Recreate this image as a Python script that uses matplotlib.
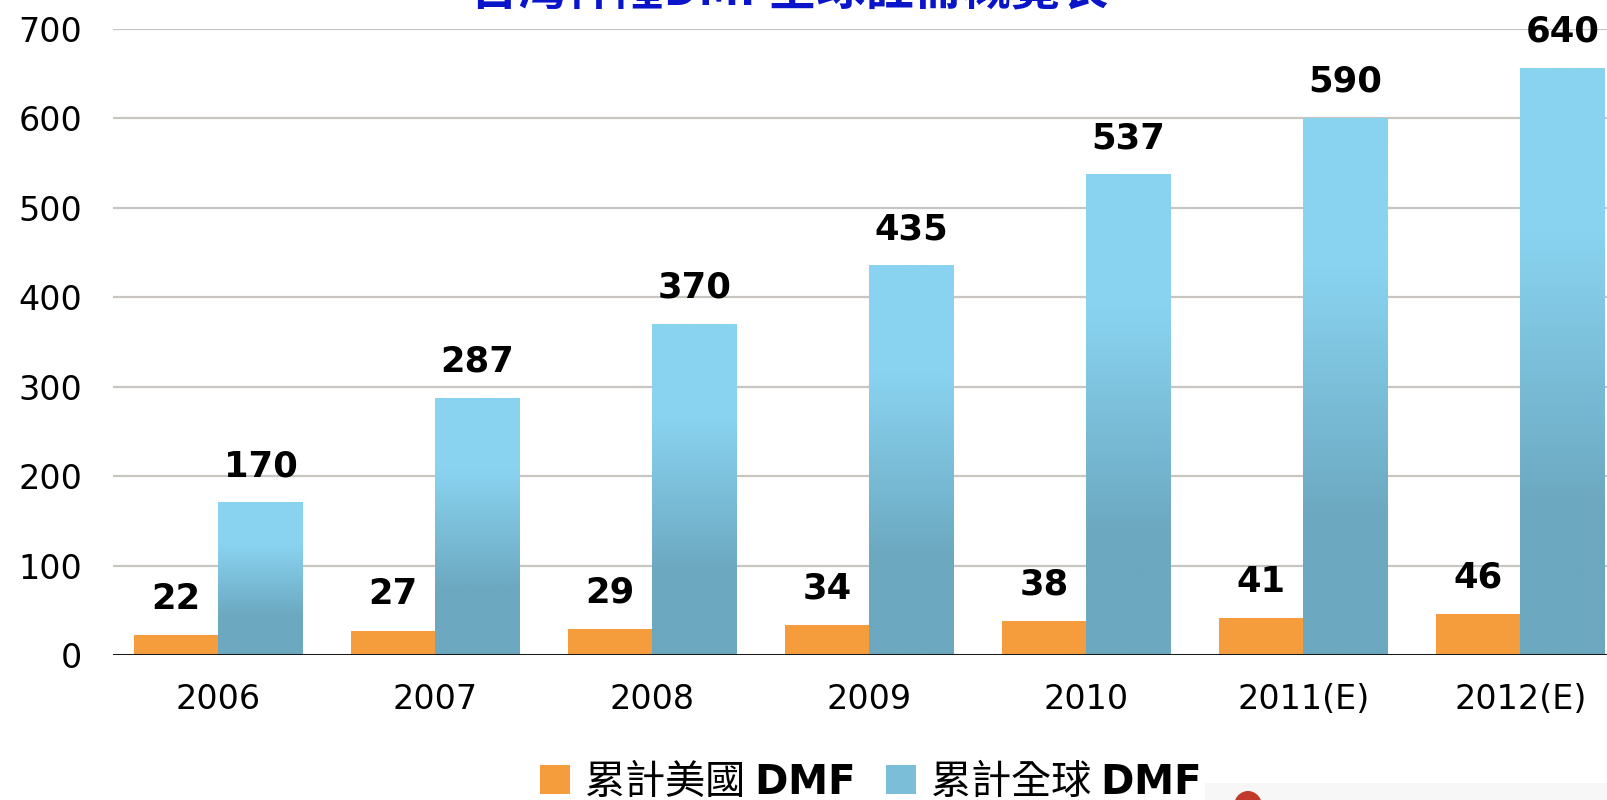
#!/usr/bin/env python3
"""Grouped bar chart of cumulative US / global DMF filings, 2006-2012(E)."""

import matplotlib

matplotlib.use("Agg")
import matplotlib.pyplot as plt
import numpy as np
from matplotlib.patches import Ellipse, Patch, Rectangle

# data
years = ["2006", "2007", "2008", "2009", "2010", "2011(E)", "2012(E)"]
us_dmf = [22, 27, 29, 34, 38, 41, 46]
global_dmf = [170, 287, 370, 435, 537, 590, 640]
# the picture draws the last two estimate bars taller than their labels
global_bar_heights = [170, 287, 370, 435, 537, 600, 656]
y_ticks = [0, 100, 200, 300, 400, 500, 600, 700]

title = "台灣神隆DMF全球註冊概覽表"
legend_labels = [r"累計美國 $\mathbf{DMF}$", r"累計全球 $\mathbf{DMF}$"]

ORANGE = "#f59d3d"
BLUE_LIGHT = np.array([137, 211, 240]) / 255
BLUE_DARK = np.array([108, 168, 192]) / 255

plt.rcParams["font.family"] = ["DejaVu Sans", "Noto Sans CJK TC"]
plt.rcParams["mathtext.fontset"] = "dejavusans"


def blue_gradient(n=200):
    t = np.linspace(0, 1, n)  # 0 = top of bar
    mix = np.clip((t - 0.28) / (0.75 - 0.28), 0, 1)[:, None]
    cols = BLUE_LIGHT * (1 - mix) + BLUE_DARK * mix
    return cols[:, None, :]


fig = plt.figure(figsize=(16.07, 8.0), dpi=100)
ax = fig.add_axes([113 / 1607, 1 - 655 / 800, 1 - 113 / 1607, (655 - 29) / 800])

x = np.arange(len(years))
width = 0.39

ax.bar(x - width / 2, us_dmf, width=width, color=ORANGE, zorder=3)

grad = blue_gradient()
for xi, h in zip(x, global_bar_heights):
    ax.imshow(grad, extent=[xi, xi + width, 0, h], aspect="auto", zorder=3,
              interpolation="bilinear")

label_kw = dict(textcoords="offset points", xytext=(0, 14), ha="center", va="bottom",
                fontsize=25.5, fontweight="bold", color="black", annotation_clip=False)
for xi, v in zip(x, us_dmf):
    ax.annotate(str(v), (xi - width / 2, v), **label_kw)
for xi, v, h in zip(x, global_dmf, global_bar_heights):
    ax.annotate(str(v), (xi + width / 2, h), **label_kw)

ax.set_xlim(-0.485, 6.40)
ax.set_ylim(0, 700)
ax.set_yticks(y_ticks)
ax.set_xticks(x)
ax.set_xticklabels(years)
ax.tick_params(axis="both", length=0, labelsize=24)
ax.tick_params(axis="y", pad=22)
ax.tick_params(axis="x", pad=20)

for v in y_ticks[1:]:
    ax.axhline(v, color="#c9c5c1", lw=1.6, zorder=1)
ax.axhline(0, color="#1a1a1a", lw=2.2, zorder=4)
for side in ("top", "right", "left", "bottom"):
    ax.spines[side].set_visible(False)

# title sits mostly above the canvas, as in the cropped source
fig.text(789 / 1607, 1 - 14 / 800, title, ha="center", va="bottom", fontsize=35,
         fontweight="bold", color="#0a14c8", family=["Noto Sans CJK TC", "DejaVu Sans"])

handles = [Patch(facecolor=ORANGE), Patch(facecolor=(BLUE_LIGHT + BLUE_DARK) / 2)]
fig.legend(handles, legend_labels, loc="center", bbox_to_anchor=(870 / 1607, 18 / 800),
           ncol=2, frameon=False, handlelength=0.75, handleheight=0.75,
           handletextpad=0.35, columnspacing=0.8,
           prop={"family": ["Noto Sans CJK TC", "DejaVu Sans"], "size": 29})

# leftover slide decoration in the bottom-right corner
fig.patches.append(Rectangle((1205 / 1607, 0), 1, 17 / 800, transform=fig.transFigure,
                             facecolor="#f7f7f7", edgecolor="none", zorder=0))
fig.patches.append(Ellipse((1248 / 1607, -6 / 800), 28 / 1607, 30 / 800,
                           transform=fig.transFigure, facecolor="#c0392b",
                           edgecolor="none", zorder=1))

fig.savefig("out.png", dpi=100)
